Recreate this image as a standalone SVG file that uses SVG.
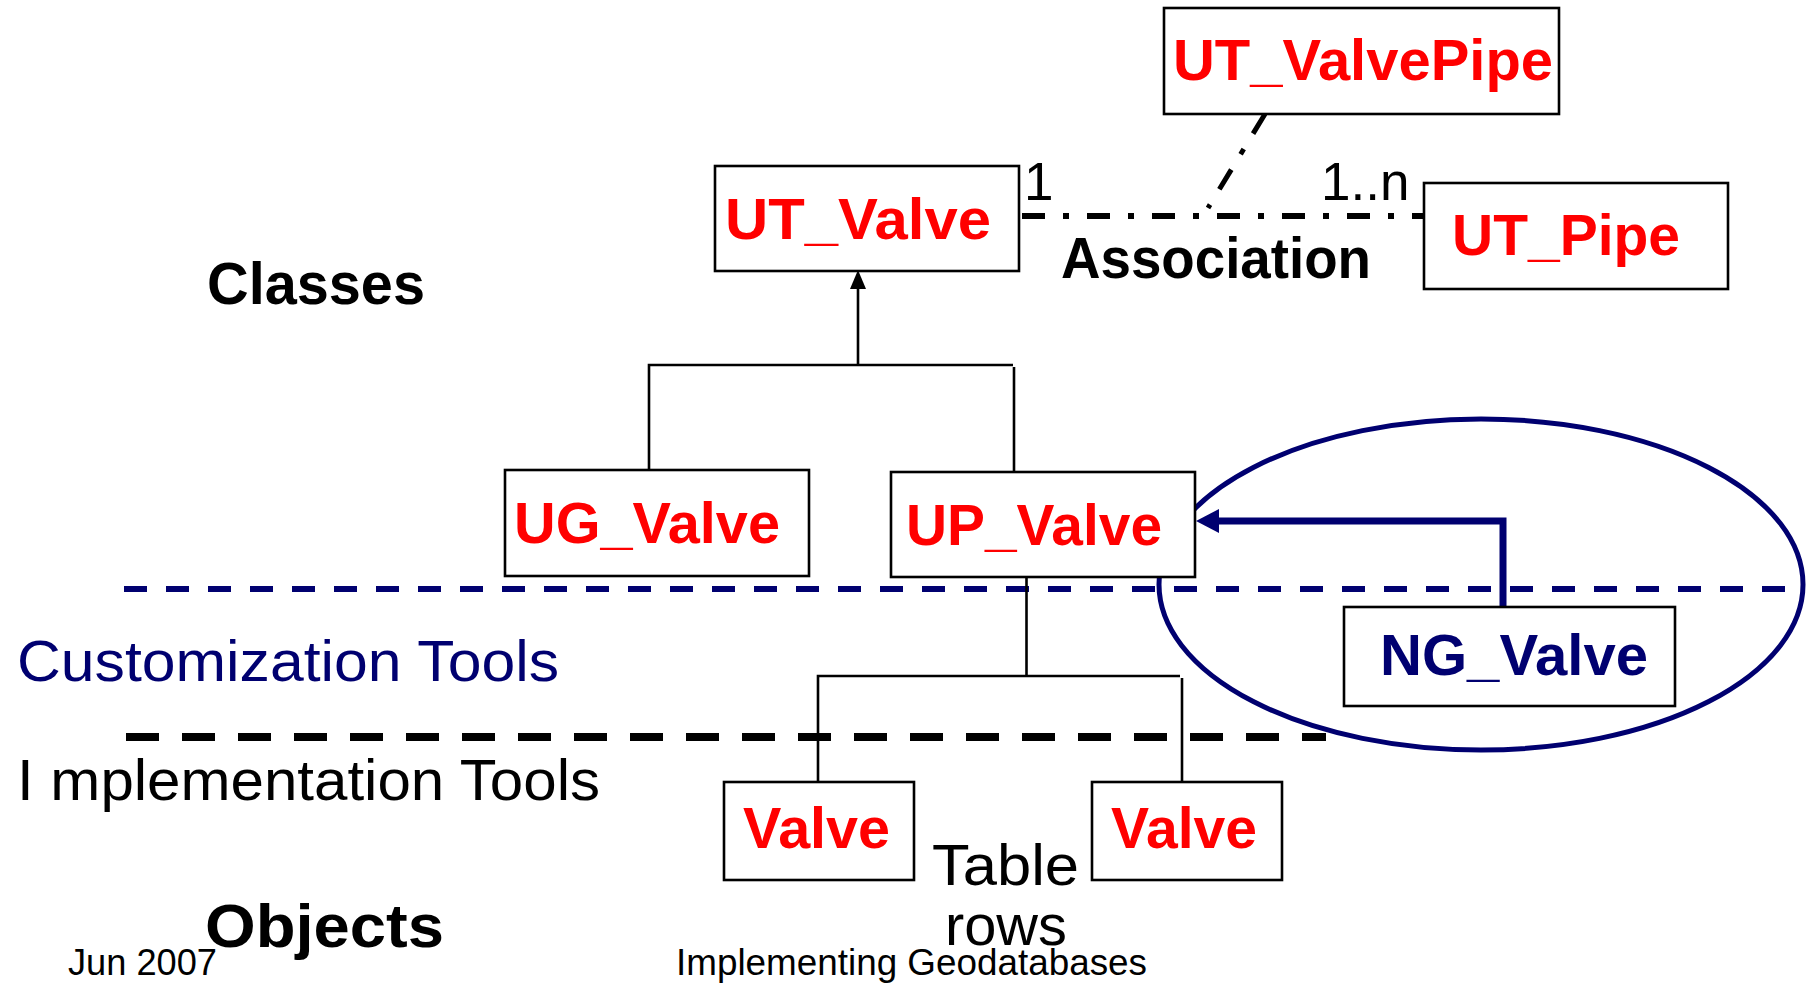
<svg xmlns="http://www.w3.org/2000/svg" width="1810" height="985" viewBox="0 0 1810 985">
<style>
.box{fill:#fff;stroke:#000;stroke-width:2.6}
.red{fill:#ff0000;font-family:"Liberation Sans",Arial,sans-serif;font-weight:bold;font-size:58px}
.navyb{fill:#000070;font-family:"Liberation Sans",Arial,sans-serif;font-weight:bold;font-size:58px}
.lbl{fill:#000;font-family:"Liberation Sans",Arial,sans-serif;font-size:57px}
.lblb{fill:#000;font-family:"Liberation Sans",Arial,sans-serif;font-size:60px;font-weight:bold}
.foot{fill:#000;font-family:"Liberation Sans",Arial,sans-serif;font-size:36px}
.thin{fill:none;stroke:#000;stroke-width:2.6}
</style>
<rect width="1810" height="985" fill="#fff"/>
<g id="dividers">
<line x1="124" y1="589" x2="1788" y2="589" stroke="#000070" stroke-width="6" stroke-dasharray="23 19"/>
<line x1="126" y1="737" x2="1326" y2="737" stroke="#000" stroke-width="8" stroke-dasharray="33 23"/>
</g>
<g id="labels">
<text class="lblb" x="207" y="304" textLength="218" lengthAdjust="spacingAndGlyphs">Classes</text>
<text class="lbl" x="17" y="681" style="fill:#000070" textLength="542" lengthAdjust="spacingAndGlyphs">Customization Tools</text>
<text class="lbl" x="17" y="800" textLength="583" lengthAdjust="spacingAndGlyphs">I mplementation Tools</text>
<text class="lblb" x="205" y="947" style="font-size:62px" textLength="239" lengthAdjust="spacingAndGlyphs">Objects</text>
<text class="foot" x="68" y="975" textLength="149" lengthAdjust="spacingAndGlyphs">Jun 2007</text>
<text class="foot" x="676" y="975" textLength="471" lengthAdjust="spacingAndGlyphs">Implementing Geodatabases</text>
</g>
<g id="connectors">
<line x1="1022" y1="216" x2="1424" y2="216" stroke="#000" stroke-width="6" stroke-dasharray="23 18 6 18"/>
<line x1="1265" y1="114" x2="1208" y2="208" stroke="#000" stroke-width="5" stroke-dasharray="23 18 6 18"/>
<polyline class="thin" points="649,470 649,365 1013,365"/>
<line class="thin" x1="1014" y1="367" x2="1014" y2="472"/>
<line class="thin" x1="858" y1="365" x2="858" y2="287"/>
<polygon points="858,270 850,289 866,289" fill="#000"/>
<line class="thin" x1="1026.5" y1="577" x2="1026.5" y2="676"/>
<polyline class="thin" points="818,782 818,676 1180,676"/>
<line class="thin" x1="1182" y1="678" x2="1182" y2="784"/>
<polyline points="1503,609 1503,521 1214,521" fill="none" stroke="#000070" stroke-width="7"/>
<polygon points="1196,521 1219,509 1219,533" fill="#000070"/>
</g>
<g id="ellipse">
<ellipse cx="1481" cy="584.5" rx="322" ry="165.5" fill="none" stroke="#000070" stroke-width="5"/>
</g>
<g id="node-ut-valvepipe">
<rect class="box" x="1164" y="8" width="395" height="106"/>
<text class="red" x="1173" y="80" textLength="380" lengthAdjust="spacingAndGlyphs">UT_ValvePipe</text>
</g>
<g id="node-ut-valve">
<rect class="box" x="715" y="166" width="304" height="105"/>
<text class="red" x="725" y="239" textLength="266" lengthAdjust="spacingAndGlyphs">UT_Valve</text>
</g>
<g id="node-ut-pipe">
<rect class="box" x="1424" y="183" width="304" height="106"/>
<text class="red" x="1452" y="255" textLength="228" lengthAdjust="spacingAndGlyphs">UT_Pipe</text>
</g>
<g id="assoc-labels">
<text class="lbl" x="1024" y="200" style="font-size:53px">1</text>
<text class="lbl" x="1321" y="200" style="font-size:53px">1..n</text>
<text class="lblb" x="1061" y="278" style="font-size:57px" textLength="310" lengthAdjust="spacingAndGlyphs">Association</text>
</g>
<g id="node-ug-valve">
<rect class="box" x="505" y="470" width="304" height="106"/>
<text class="red" x="514" y="543" textLength="266" lengthAdjust="spacingAndGlyphs">UG_Valve</text>
</g>
<g id="node-up-valve">
<rect class="box" x="891" y="472" width="304" height="105"/>
<text class="red" x="906" y="545" textLength="256" lengthAdjust="spacingAndGlyphs">UP_Valve</text>
</g>
<g id="node-ng-valve">
<rect class="box" x="1344" y="607" width="331" height="99"/>
<text class="navyb" x="1380" y="675" textLength="268" lengthAdjust="spacingAndGlyphs">NG_Valve</text>
</g>
<g id="node-valve-1">
<rect class="box" x="724" y="782" width="190" height="98"/>
<text class="red" x="743" y="848" textLength="147" lengthAdjust="spacingAndGlyphs">Valve</text>
</g>
<g id="node-valve-2">
<rect class="box" x="1092" y="782" width="190" height="98"/>
<text class="red" x="1111" y="848" textLength="146" lengthAdjust="spacingAndGlyphs">Valve</text>
</g>
<g id="table-rows">
<text class="lbl" x="932" y="885" textLength="147" lengthAdjust="spacingAndGlyphs">Table</text>
<text class="lbl" x="945" y="945" textLength="122" lengthAdjust="spacingAndGlyphs">rows</text>
</g>
</svg>
